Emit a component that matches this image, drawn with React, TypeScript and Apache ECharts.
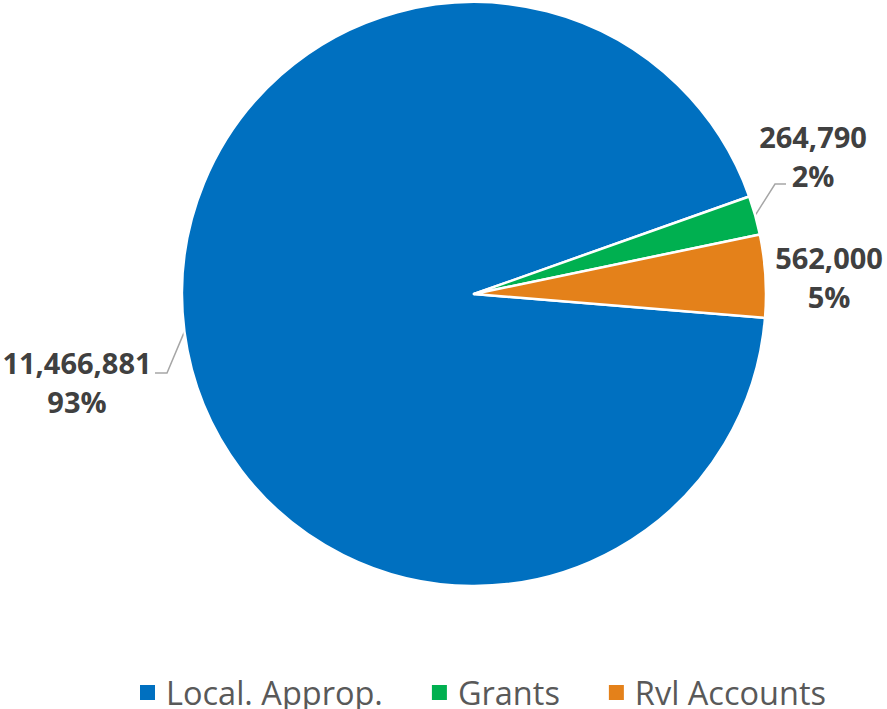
import React, { useEffect, useRef } from "react";
import * as echarts from "echarts";

const categories = ["Local. Approp.", "Grants", "Rvl Accounts"];
const values = [11466881, 264790, 562000];
const colors = ["#0070C0", "#00B050", "#E4811A"];

// label anchor placement (centre of the two-line label block) and leader line bends
const labelPlacement = [
  { x: 77, y: 382, line: [[167, 373], [155, 373]] },
  { x: 813, y: 156, line: [[775, 184], [786, 184]] },
  { x: 829, y: 277, line: null as null | number[][] },
];

export default function App() {
  const ref = useRef<HTMLDivElement>(null);
  useEffect(() => {
    document.body.style.margin = "0";
    const chart = echarts.init(ref.current!, null, { renderer: "svg" });
    const total = values.reduce((a, b) => a + b, 0);
    chart.setOption({
      animation: false,
      backgroundColor: "#ffffff",
      legend: {
        data: categories,
        left: 133,
        top: 671,
        icon: "rect",
        itemWidth: 17,
        itemHeight: 17,
        itemGap: 47,
        textStyle: {
          fontFamily: "Open Sans",
          fontSize: 32.5,
          lineHeight: 32,
          color: "#595959",
          padding: [0, 0, 0, 5],
        },
      },
      series: [
        {
          type: "pie",
          center: [474, 294],
          radius: 292,
          startAngle: -4.7,
          clockwise: true,
          avoidLabelOverlap: false,
          itemStyle: { borderColor: "#ffffff", borderWidth: 2.5 },
          label: {
            show: true,
            position: "outside",
            formatter: (p: any) =>
              `{a|${p.value.toLocaleString("en-US")}}\n{a|${Math.round((p.value / total) * 100)}%}`,
            rich: {
              a: {
                fontFamily: "Open Sans",
                fontWeight: "bold",
                fontSize: 29,
                color: "#404040",
                lineHeight: 39,
                align: "center",
              },
            },
          },
          labelLine: {
            show: true,
            lineStyle: { color: "#A6A6A6", width: 1.5 },
          },
          labelLayout: (params: any) => {
            const pl = labelPlacement[params.dataIndex];
            const res: any = { x: pl.x, y: pl.y, align: "center", verticalAlign: "middle" };
            if (pl.line && params.labelLinePoints) {
              res.labelLinePoints = [params.labelLinePoints[0], ...pl.line];
            }
            return res;
          },
          data: categories.map((name, i) => ({
            name,
            value: values[i],
            itemStyle: { color: colors[i] },
            labelLine: { show: labelPlacement[i].line !== null },
          })),
        },
      ],
    });
    return () => chart.dispose();
  }, []);
  return <div ref={ref} style={{ width: 887, height: 709 }} />;
}
